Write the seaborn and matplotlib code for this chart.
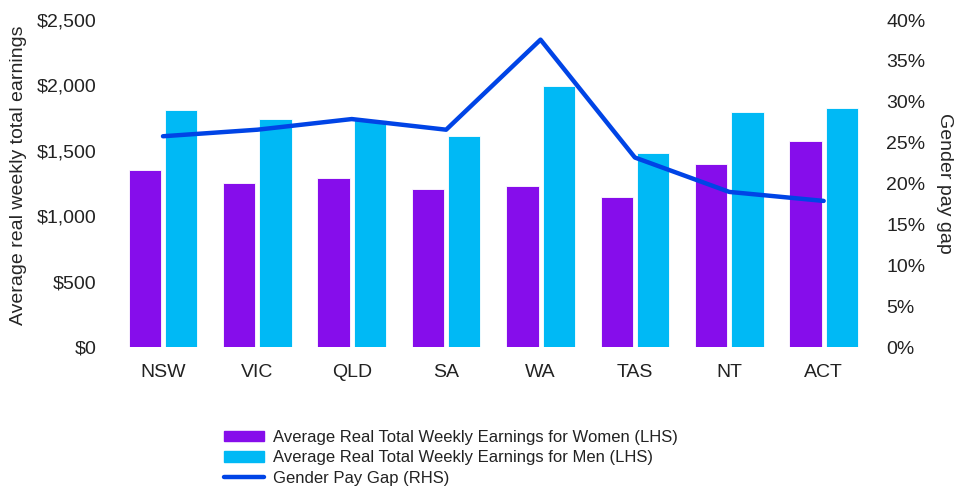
import matplotlib
matplotlib.use("Agg")
import matplotlib.pyplot as plt
import matplotlib.ticker as mticker
from matplotlib.patches import Patch
from matplotlib.lines import Line2D
import seaborn as sns
import pandas as pd

states = ["NSW", "VIC", "QLD", "SA", "WA", "TAS", "NT", "ACT"]
women = [1353, 1254, 1297, 1208, 1234, 1152, 1399, 1575]
men = [1813, 1742, 1737, 1617, 1999, 1483, 1800, 1829]
pay_gap = [25.8, 26.6, 27.9, 26.6, 37.6, 23.2, 19.0, 17.9]

lbl_women = "Average Real Total Weekly Earnings for Women (LHS)"
lbl_men = "Average Real Total Weekly Earnings for Men (LHS)"
lbl_gap = "Gender Pay Gap (RHS)"

c_women = "#860DEB"
c_men = "#00B9F5"
c_gap = "#0044E6"

sns.set_style("white")
plt.rcParams["font.family"] = ["Liberation Sans", "DejaVu Sans"]
plt.rcParams["text.color"] = "#222222"

df = pd.DataFrame({
    "state": states * 2,
    "earn": women + men,
    "series": [lbl_women] * len(states) + [lbl_men] * len(states),
})

fig, ax = plt.subplots(figsize=(9.57, 4.88), dpi=100)
fig.subplots_adjust(left=0.121, right=0.91, top=0.959, bottom=0.288)

sns.barplot(data=df, x="state", y="earn", hue="series", order=states,
            palette=[c_women, c_men], saturation=1, width=0.77, gap=0.11,
            edgecolor="white", linewidth=0.6, ax=ax, legend=False)
ax.set_ylim(0, 2500)
ax.set_xlim(-0.5, 7.5)
ax.yaxis.set_major_locator(mticker.MultipleLocator(500))
ax.yaxis.set_major_formatter(mticker.FuncFormatter(lambda v, p: "${:,.0f}".format(v)))
ax.set_xlabel("")
ax.set_ylabel("Average real weekly total earnings", fontsize=14)
ax.yaxis.set_label_coords(-0.118, 0.527)
ax.tick_params(axis="both", length=0, labelsize=14, colors="#222222")
ax.tick_params(axis="y", pad=14)
ax.tick_params(axis="x", pad=12)

ax2 = ax.twinx()
sns.lineplot(x=list(range(len(states))), y=pay_gap, color=c_gap, linewidth=3.2,
             solid_capstyle="round", ax=ax2)
ax2.set_ylim(0, 40)
ax2.yaxis.set_major_locator(mticker.MultipleLocator(5))
ax2.yaxis.set_major_formatter(mticker.FuncFormatter(lambda v, p: "{:.0f}%".format(v)))
ax2.set_ylabel("Gender pay gap", fontsize=14, rotation=270, labelpad=20)
ax2.tick_params(axis="y", length=0, labelsize=14, colors="#222222", pad=11)

for a in (ax, ax2):
    for s in a.spines.values():
        s.set_visible(False)

handles = [Patch(color=c_women), Patch(color=c_men),
           Line2D([0], [0], color=c_gap, lw=3.2, solid_capstyle="round")]
fig.legend(handles, [lbl_women, lbl_men, lbl_gap], loc="center",
           bbox_to_anchor=(0.471, 0.062), frameon=False, fontsize=12,
           handlelength=2.4, handleheight=0.6, labelspacing=0.32, handletextpad=0.55)

fig.savefig("out.png", dpi=100)
